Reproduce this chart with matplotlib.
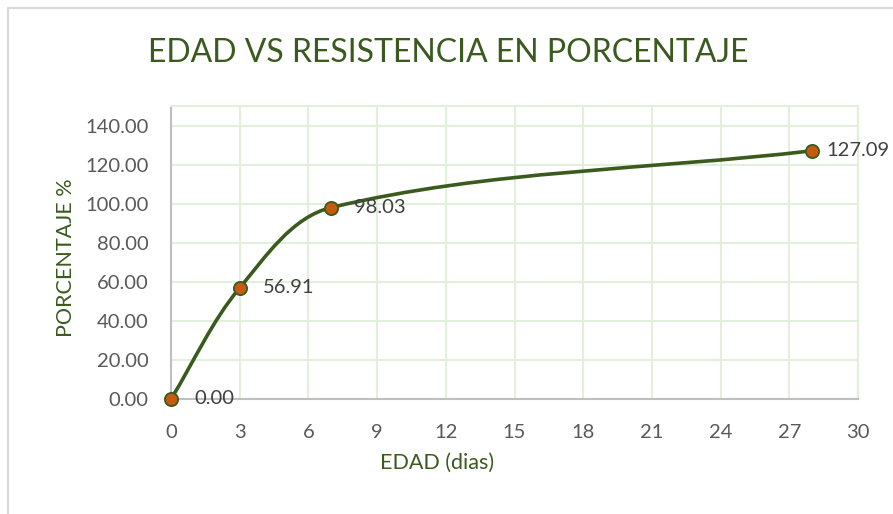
import matplotlib
matplotlib.use("Agg")
import numpy as np
import matplotlib.pyplot as plt
from matplotlib.path import Path
from matplotlib.patches import PathPatch, Rectangle

plt.rcParams["font.family"] = ["Lato", "DejaVu Sans"]

# data
edad = [0, 3, 7, 28]
porcentaje = [0.00, 56.91, 98.03, 127.09]
etiquetas = ["0.00", "56.91", "98.03", "127.09"]

x_ticks = list(range(0, 31, 3))
y_ticks = list(range(0, 141, 20))

verde = "#3A5A1E"
naranja = "#C55A11"
gris_txt = "#595959"
rejilla = "#E2EFDA"

fig = plt.figure(figsize=(8.93, 5.14), dpi=100)
ax = fig.add_axes([171 / 893, 1 - 399 / 514, 687 / 893, 293 / 514])
ax.set_xlim(0, 30)
ax.set_ylim(0, 150)

# chart border (cropped on right and bottom)
fig.patches.append(Rectangle((8 / 893, -0.1), 1.2, 1 - 8 / 514 + 0.1,
                             transform=fig.transFigure, fill=False,
                             edgecolor="#D9D9D9", linewidth=1.5))

# smoothed line like excel: bezier through the points, built in pixel space
P = ax.transData.transform(np.column_stack([edad, porcentaje]))
n = len(P)
tang = []
for i in range(n):
    d = P[min(i + 1, n - 1)] - P[max(i - 1, 0)]
    tang.append(d / np.hypot(*d))
verts = [P[0]]
codes = [Path.MOVETO]
for i in range(n - 1):
    L = np.hypot(*(P[i + 1] - P[i])) / 3
    verts += [P[i] + tang[i] * L, P[i + 1] - tang[i + 1] * L, P[i + 1]]
    codes += [Path.CURVE4] * 3
verts = ax.transData.inverted().transform(np.array(verts))
ax.add_patch(PathPatch(Path(verts, codes), fill=False, edgecolor=verde,
                       linewidth=2.6, zorder=3, capstyle="round"))

ax.plot(edad, porcentaje, linestyle="none", marker="o", markersize=9.5,
        markerfacecolor=naranja, markeredgecolor=verde,
        markeredgewidth=1.3, zorder=4, clip_on=False)

for i, (x, y, t) in enumerate(zip(edad, porcentaje, etiquetas)):
    dx = 10 if i == n - 1 else 16.5
    ax.annotate(t, (x, y), xytext=(dx, 0), textcoords="offset points",
                ha="left", va="center", fontsize=14.5, color="#404040")

ax.set_xticks(x_ticks)
ax.set_yticks(y_ticks)
ax.set_yticklabels([f"{v:.2f}" for v in y_ticks])
ax.tick_params(length=0, labelsize=14.5, labelcolor=gris_txt)
ax.tick_params(axis="y", pad=16)
ax.tick_params(axis="x", pad=18)

ax.grid(True, color=rejilla, linewidth=1.5)
ax.set_axisbelow(True)
for s in ["top", "right"]:
    ax.spines[s].set_color(rejilla)
    ax.spines[s].set_linewidth(1.5)
for s in ["left", "bottom"]:
    ax.spines[s].set_color("#BFBFBF")
    ax.spines[s].set_linewidth(1.5)

ax.set_xlabel("EDAD (dias)", fontsize=15.5, color=verde)
ax.xaxis.set_label_coords(0.387, -0.185)
ax.set_ylabel("PORCENTAJE %", fontsize=15.5, color=verde)
ax.yaxis.set_label_coords(-0.138, 0.483)

fig.text(448 / 893, 1 - 53 / 514, "EDAD VS RESISTENCIA EN PORCENTAJE",
         ha="center", va="center", fontsize=23, color=verde)

fig.savefig("out.png", dpi=100)
